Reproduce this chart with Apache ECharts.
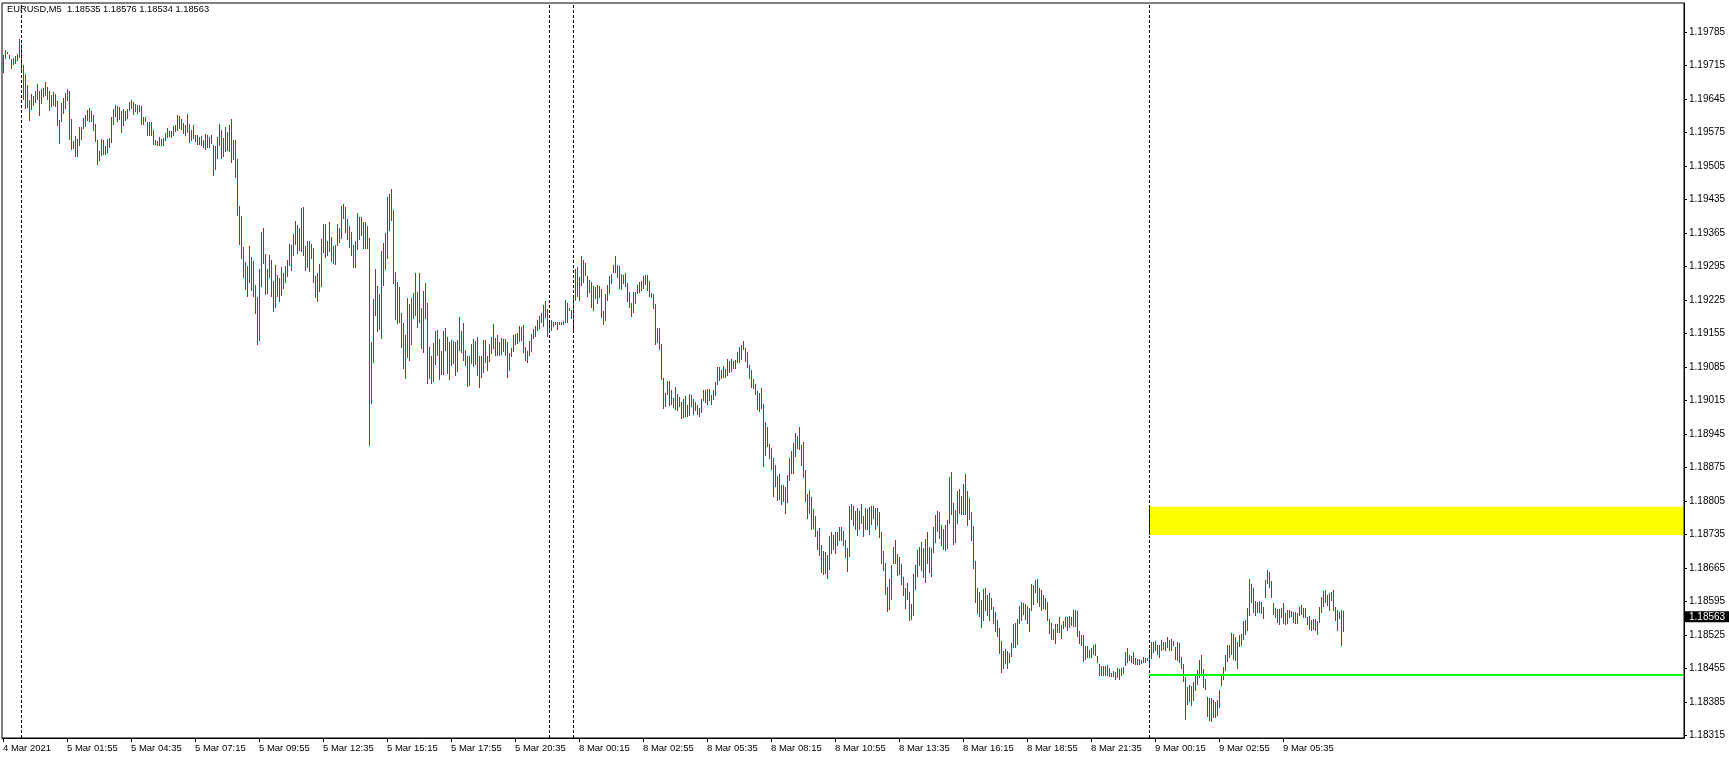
<!DOCTYPE html>
<html><head><meta charset="utf-8">
<script src="https://cdn.jsdelivr.net/npm/echarts@6/dist/echarts.min.js"></script>
<style>html,body{margin:0;padding:0;background:#fff;overflow:hidden}#c{width:1729px;height:759px}</style>
</head><body><div id="c"></div>
<script>
// ---- data ----
const symbol = 'EURUSD,M5';
const lastOHLC = [1.18535, 1.18576, 1.18534, 1.18563];
const POINT = 0.00001;
// bar highs / lows in points (1 point = 0.00001)
const highPoints = [
119737,119747,119744,119737,119728,119730,119735,119739,119770,119760,
119716,119697,119674,119643,119655,119651,119662,119676,119662,119665,
119669,119681,119671,119662,119653,119659,119655,119641,119601,119636,
119648,119658,119666,119662,119603,119557,119568,119561,119587,119587,
119605,119612,119622,119626,119619,119612,119593,119559,119536,119561,
119559,119547,119561,119564,119607,119624,119632,119630,119628,119619,
119624,119619,119624,119639,119643,119638,119635,119632,119632,119631,
119607,119607,119596,119596,119596,119580,119559,119557,119566,119562,
119564,119574,119585,119578,119578,119589,119591,119612,119610,119603,
119595,119591,119614,119593,119581,119591,119570,119570,119566,119567,
119559,119572,119570,119566,119570,119549,119547,119566,119592,119580,
119563,119587,119575,119591,119603,119559,119559,119520,119421,119401,
119336,119304,119296,119338,119315,119306,119256,119231,119290,119367,
119375,119321,119290,119319,119309,119265,119298,119277,119271,119294,
119281,119296,119309,119342,119340,119363,119390,119382,119375,119417,
119419,119337,119348,119348,119342,119334,119275,119281,119300,119352,
119384,119384,119348,119388,119357,119338,119340,119384,119375,119421,
119426,119419,119394,119380,119367,119340,119348,119407,119398,119398,
119388,119388,119380,119355,119137,119227,119290,119254,119238,119327,
119344,119365,119440,119446,119457,119413,119284,119263,119252,119198,
119177,119152,119229,119217,119229,119240,119281,119242,119281,119208,
119244,119261,119219,119127,119108,119135,119160,119162,119144,119118,
119160,119167,119148,119138,119141,119140,119138,119141,119190,119160,
119176,119121,119107,119107,119134,119144,119140,119148,119107,119107,
119141,119141,119107,119134,119148,119175,119145,119152,119138,119146,
119144,119143,119138,119115,119125,119152,119154,119156,119171,119169,
119172,119127,119119,119139,119154,119164,119171,119183,119192,119198,
119215,119223,119206,119183,119183,119180,119180,119178,119180,119178,
119181,119225,119219,119209,119204,119231,119289,119293,119274,119317,
119309,119303,119275,119267,119263,119254,119253,119256,119254,119249,
119201,119237,119256,119275,119279,119298,119317,119298,119295,119279,
119277,119282,119261,119242,119218,119242,119242,119256,119263,119265,
119275,119277,119277,119265,119239,119238,119217,119167,119167,119132,
119063,119030,119056,119056,119036,119021,119044,119029,119022,119012,
119018,119024,119006,119029,119027,119018,119012,119006,119000,119018,
119037,119037,119039,119039,119027,119036,119054,119085,119085,119079,
119088,119081,119102,119098,119102,119098,119100,119116,119127,119131,
119139,119125,119117,119089,119079,119060,119050,119035,119031,119041,
119008,118970,118960,118924,118916,118895,118880,118857,118862,118839,
118839,118834,118859,118895,118910,118926,118947,118941,118960,118922,
118928,118870,118820,118828,118813,118788,118774,118742,118749,118713,
118701,118699,118692,118732,118740,118734,118740,118740,118751,118751,
118742,118724,118707,118795,118799,118795,118784,118790,118784,118799,
118774,118790,118788,118792,118795,118795,118790,118790,118782,118740,
118701,118676,118625,118642,118671,118709,118724,118694,118687,118673,
118647,118624,118634,118615,118590,118652,118671,118703,118709,118719,
118707,118726,118741,118709,118707,118751,118776,118784,118781,118755,
118747,118755,118765,118855,118866,118801,118786,118826,118830,118815,
118841,118861,118826,118811,118782,118753,118680,118623,118615,118598,
118621,118624,118609,118613,118603,118583,118572,118556,118540,118512,
118492,118496,118492,118488,118509,118548,118550,118558,118586,118594,
118592,118590,118586,118581,118632,118629,118640,118642,118624,118619,
118609,118602,118594,118558,118549,118538,118548,118548,118563,118546,
118554,118563,118563,118565,118563,118577,118577,118576,118533,118524,
118524,118502,118502,118494,118498,118503,118507,118481,118464,118460,
118460,118461,118462,118456,118446,118450,118448,118457,118454,118455,
118459,118490,118498,118483,118481,118490,118476,118475,118474,118473,
118478,118476,118476,118496,118511,118510,118512,118504,118505,118515,
118510,118510,118521,118515,118516,118513,118499,118511,118509,118480,
118464,118437,118416,118420,118418,118427,118444,118452,118473,118483,
118453,118434,118396,118393,118393,118389,118385,118389,118410,118441,
118459,118484,118504,118505,118530,118526,118521,118510,118525,118527,
118555,118556,118581,118642,118632,118623,118597,118593,118595,118593,
118584,118639,118661,118657,118638,118591,118581,118579,118579,118581,
118591,118570,118577,118577,118575,118573,118574,118571,118584,118588,
118581,118581,118563,118565,118556,118558,118558,118555,118584,118605,
118617,118620,118609,118613,118615,118618,118584,118577,118572,118577,
118576];
const lowPoints = [
119702,119730,119741,119731,119709,119718,119720,119727,119733,119706,
119646,119627,119628,119601,119624,119632,119639,119645,119612,119636,
119652,119653,119646,119622,119631,119632,119630,119591,119554,119599,
119615,119626,119643,119561,119541,119542,119525,119525,119549,119561,
119585,119589,119601,119599,119599,119580,119558,119510,119518,119528,
119531,119531,119535,119545,119556,119593,119610,119600,119603,119577,
119591,119601,119605,119621,119627,119614,119619,119616,119619,119593,
119593,119598,119570,119570,119570,119552,119552,119549,119548,119548,
119548,119559,119566,119568,119566,119570,119578,119580,119585,119582,
119573,119570,119577,119556,119559,119563,119557,119552,119552,119548,
119545,119540,119545,119545,119554,119486,119499,119521,119548,119521,
119525,119537,119538,119537,119514,119520,119481,119403,119342,119313,
119273,119247,119234,119263,119245,119234,119198,119134,119141,119255,
119303,119238,119240,119272,119234,119203,119211,119234,119222,119235,
119251,119263,119275,119298,119288,119320,119342,119324,119330,119327,
119319,119288,119294,119286,119313,119263,119231,119222,119244,119255,
119326,119315,119318,119328,119306,119302,119301,119340,119347,119355,
119397,119368,119352,119336,119318,119294,119294,119332,119352,119361,
119334,119333,119334,118921,119010,119096,119194,119161,119164,119146,
119256,119290,119313,119371,119392,119261,119186,119176,119180,119127,
119082,119061,119105,119100,119132,119188,119194,119169,119178,119125,
119117,119188,119052,119061,119052,119056,119091,119110,119059,119071,
119071,119121,119073,119060,119089,119094,119069,119077,119121,119117,
119100,119089,119046,119047,119093,119088,119091,119068,119044,119065,
119074,119096,119079,119098,119114,119124,119110,119111,119110,119112,
119119,119110,119065,119079,119107,119118,119134,119136,119139,119141,
119116,119100,119096,119110,119118,119145,119150,119162,119166,119178,
119171,119190,119150,119159,119162,119171,119175,119164,119175,119175,
119175,119180,119180,119204,119187,119161,119224,119233,119226,119256,
119263,119277,119233,119242,119211,119204,119230,119219,119231,119190,
119175,119183,119226,119239,119260,119284,119283,119272,119251,119247,
119260,119254,119222,119211,119192,119199,119218,119239,119242,119245,
119251,119258,119246,119233,119231,119208,119134,119138,119122,119059,
119000,119004,119029,119006,119008,119002,118998,118995,119004,118979,
118981,118983,118983,118985,119004,118987,118995,118987,118983,118990,
119017,119011,119008,119016,119008,119018,119027,119050,119057,119063,
119065,119065,119068,119075,119077,119082,119082,119096,119096,119102,
119123,119098,119084,119062,119044,119041,119029,118997,118993,118999,
118878,118901,118919,118895,118872,118816,118837,118806,118810,118799,
118804,118780,118802,118848,118864,118864,118900,118916,118914,118880,
118856,118805,118770,118779,118747,118749,118731,118705,118693,118657,
118653,118655,118645,118662,118696,118705,118697,118714,118724,118724,
118714,118688,118659,118691,118768,118755,118747,118734,118747,118760,
118732,118747,118747,118736,118757,118770,118747,118755,118730,118676,
118661,118610,118575,118580,118600,118676,118676,118650,118652,118632,
118609,118582,118600,118556,118559,118567,118621,118648,118671,118661,
118646,118636,118675,118657,118648,118698,118720,118742,118728,118713,
118705,118703,118707,118758,118778,118715,118720,118758,118780,118778,
118778,118778,118755,118768,118723,118664,118593,118571,118565,118542,
118556,118577,118566,118557,118579,118551,118533,118523,118488,118448,
118455,118467,118456,118469,118481,118499,118499,118507,118550,118556,
118569,118558,118550,118533,118577,118590,118615,118594,118586,118578,
118581,118579,118557,118529,118517,118517,118509,118531,118531,118519,
118540,118544,118535,118542,118546,118544,118544,118522,118509,118503,
118470,118474,118480,118480,118480,118486,118483,118469,118441,118442,
118441,118442,118441,118439,118439,118439,118432,118438,118434,118441,
118446,118462,118469,118473,118469,118466,118464,118464,118464,118466,
118469,118469,118473,118460,118476,118490,118494,118486,118479,118494,
118495,118494,118500,118494,118494,118504,118475,118473,118469,118455,
118429,118350,118381,118386,118379,118389,118410,118423,118437,118441,
118417,118412,118356,118347,118346,118354,118353,118358,118374,118421,
118434,118452,118471,118480,118485,118474,118473,118455,118502,118504,
118516,118527,118535,118567,118593,118574,118567,118572,118574,118570,
118560,118604,118633,118625,118605,118569,118563,118553,118548,118563,
118549,118548,118551,118563,118565,118553,118551,118551,118567,118569,
118563,118562,118548,118537,118535,118537,118535,118528,118553,118572,
118586,118593,118588,118577,118598,118577,118556,118535,118560,118505,
118534];
// trading sessions of M5 bars: [start (broker time), number of slots]
const sessions = [['2021-03-04T23:15', 273], ['2021-03-07T23:00', 12], ['2021-03-08T00:00', 556]];
const firstLabel = '4 Mar 2021';
const labelEvery = 32;
// price axis tick labels
const yTickLabels = [1.18315,1.18385,1.18455,1.18525,1.18595,1.18665,1.18735,1.18805,1.18875,1.18945,1.19015,
  1.19085,1.19155,1.19225,1.19295,1.19365,1.19435,1.19505,1.19575,1.19645,1.19715,1.19785];
const yMin = 1.183097, yMax = 1.198456;
// period separators (bar index of new day)
const separatorIdx = [9, 273, 285, 573];
// drawn objects
const zoneStartIdx = 573;
const zoneTop = 1.18793, zoneBottom = 1.18734;
const greenLevel = 1.18442;

// ---- build ----
const MONTHS = ['Jan','Feb','Mar','Apr','May','Jun','Jul','Aug','Sep','Oct','Nov','Dec'];
const pad = n => (n < 10 ? '0' : '') + n;
const categories = [];
sessions.forEach(([s, n]) => {
  const [d, t] = s.split('T');
  const [Y, M, D] = d.split('-').map(Number);
  const [h, m] = t.split(':').map(Number);
  const base = Date.UTC(Y, M - 1, D, h, m);
  for (let k = 0; k < n; k++) {
    const dt = new Date(base + k * 300000);
    categories.push(dt.getUTCDate() + ' ' + MONTHS[dt.getUTCMonth()] + ' ' + pad(dt.getUTCHours()) + ':' + pad(dt.getUTCMinutes()));
  }
});
const lastIdx = highPoints.length - 1;
const lastCat = categories.length - 1;
const barData = highPoints.map((h, i) => [i, lowPoints[i] * POINT, h * POINT]);
const showTick = (i) => i % labelEvery === 0 && i <= lastIdx;

const FONT = 'Liberation Sans';
const chart = echarts.init(document.getElementById('c'), null, {renderer: 'canvas'});
chart.setOption({
  animation: false,
  backgroundColor: '#ffffff',
  title: {
    text: symbol + '  ' + lastOHLC.map(v => v.toFixed(5)).join(' '),
    left: 7, top: 5, padding: 0,
    textStyle: {fontSize: 9.3, fontWeight: 'normal', color: '#000', fontFamily: FONT}
  },
  grid: {left: 2, top: 3, width: 1682, height: 735, show: true, borderColor: '#000', borderWidth: 1,
         backgroundColor: '#fff', containLabel: false, outerBoundsMode: 'none'},
  xAxis: {
    type: 'category', data: categories, boundaryGap: true,
    axisLine: {show: true, lineStyle: {color: '#000', width: 1}},
    axisTick: {show: true, alignWithLabel: true, interval: showTick, length: 4, lineStyle: {color: '#000'}},
    axisLabel: {interval: showTick, align: 'left', margin: 5, color: '#000', fontSize: 9.5, fontFamily: FONT,
      formatter: (v, i) => (i === 0 ? firstLabel : v)},
    splitLine: {show: false}
  },
  yAxis: [{
    type: 'value', position: 'right', min: yMin, max: yMax, scale: true,
    axisLine: {show: true, lineStyle: {color: '#000', width: 1}},
    axisTick: {show: true, length: 3, customValues: yTickLabels, lineStyle: {color: '#000'}},
    axisLabel: {customValues: yTickLabels, margin: 5, color: '#000', fontSize: 10, fontFamily: FONT,
      formatter: v => Number(v).toFixed(5)},
    splitLine: {show: false}
  }, {
    type: 'value', position: 'right', min: yMin, max: yMax, scale: true,
    axisLine: {show: false}, axisTick: {show: false}, splitLine: {show: false},
    axisLabel: {customValues: [lastOHLC[3]], margin: 1, color: '#fff', backgroundColor: '#000',
      padding: [1, 4, 0, 4], fontSize: 10, fontFamily: FONT, formatter: v => Number(v).toFixed(5)}
  }],
  series: [{
    type: 'custom',
    data: barData,
    encode: {x: 0, y: [1, 2]},
    clip: true,
    renderItem: (params, api) => {
      const i = api.value(0);
      const hi = api.coord([i, api.value(2)]);
      const lo = api.coord([i, api.value(1)]);
      const x = Math.round(hi[0]);
      const y0 = Math.round(hi[1]);
      const y1 = Math.round(lo[1]);
      return {type: 'rect', shape: {x: x, y: y0, width: 1, height: Math.max(1, y1 - y0 + 1)},
              style: {fill: '#ff0000'}};
    },
    markArea: {
      silent: true,
      itemStyle: {color: '#ffff00'},
      data: [[{xAxis: categories[zoneStartIdx], yAxis: zoneTop}, {xAxis: categories[lastCat], yAxis: zoneBottom}]]
    },
    markLine: {
      silent: true, symbol: 'none', animation: false,
      label: {show: false},
      data: [
        ...separatorIdx.map(i => ({xAxis: categories[i], lineStyle: {color: '#000', width: 1, type: [3, 2]}})),
        [{coord: [categories[zoneStartIdx], zoneBottom], lineStyle: {color: '#0000ff', width: 1, type: [3, 2]}},
         {coord: [categories[zoneStartIdx], zoneTop]}],
        [{coord: [categories[zoneStartIdx], zoneBottom], lineStyle: {color: '#ffffff', width: 1, type: [3, 2]}},
         {coord: [categories[lastCat], zoneBottom]}],
        [{coord: [categories[zoneStartIdx], greenLevel], lineStyle: {color: '#00ff00', width: 2, type: 'solid'}},
         {coord: [categories[lastCat], greenLevel]}]
      ]
    }
  }]
});
</script></body></html>
